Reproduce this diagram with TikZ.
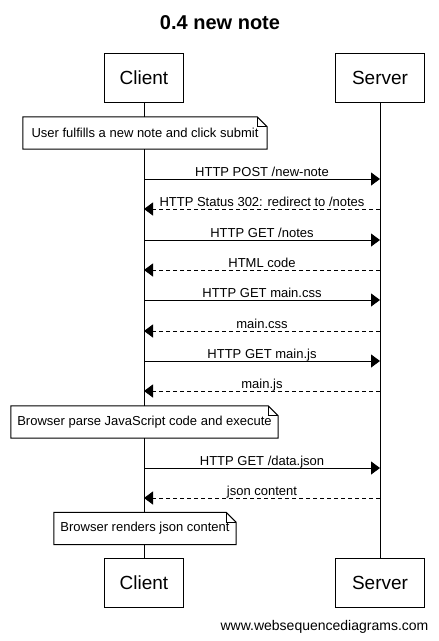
\documentclass[tikz,border=0pt]{standalone}
\usepackage{fontspec}
\setmainfont{Liberation Sans}
\usetikzlibrary{arrows.meta}
\newcommand\foldnote[1]{%
  \draw[line width=1pt] (#1.south west) -- (#1.north west) -- ([xshift=-10pt]#1.north east)
    -- ([yshift=-10pt]#1.north east) -- (#1.south east) -- cycle;
  \draw[line width=1pt] ([xshift=-10pt]#1.north east) |- ([yshift=-10pt]#1.north east);}
\begin{document}
\begin{tikzpicture}[x=1pt, y=-1pt,
    actor/.style={draw, line width=1pt, fill=white, minimum height=49pt, inner xsep=15pt, font=\fontsize{19}{22}\selectfont},
    note/.style={fill=white, minimum height=32pt, inner xsep=6pt, font=\fontsize{13}{15}\selectfont},
    msg/.style={line width=1pt, -{Triangle[length=9pt, width=13pt]}},
    reply/.style={msg, dash pattern=on 4pt off 3pt},
    lbl/.style={midway, anchor=base, yshift=2.5pt, inner sep=0pt, font=\fontsize{13}{15}\selectfont}]
  \useasboundingbox (0,0) rectangle (439,641);
  \node[anchor=base, font=\bfseries\fontsize{20}{24}\selectfont] (title) at (220,29) {0.4 new note};
  \node[actor, minimum width=79pt] (ctop) at (144,77.5) {Client};
  \node[actor, minimum width=89pt] (stop) at (380,77.5) {Server};
  \node[actor, minimum width=79pt] (cbot) at (144,582.5) {Client};
  \node[actor, minimum width=89pt] (sbot) at (380,582.5) {Server};
  % lifelines
  \draw[line width=1pt] (ctop) -- (cbot);
  \draw[line width=1pt] (stop) -- (sbot);
  \foreach \i/\y in {1/179,2/209,3/240,4/270,5/300,6/331,7/361,8/391,9/468,10/498}{
    \coordinate (c\i) at (144,\y);
    \coordinate (s\i) at (380,\y);
  }
  % notes
  \node[note, minimum width=244pt] (n1) at (145,133) {User fulfills a new note and click submit};
  \foldnote{n1}
  \node[note, minimum width=267pt] (n2) at (144.5,422) {Browser parse JavaScript code and execute};
  \foldnote{n2}
  \node[note, minimum width=182pt] (n3) at (145,528.5) {Browser renders json content};
  \foldnote{n3}
  % messages
  \draw[msg] (c1) -- (s1) node[lbl] {HTTP POST /new-note};
  \draw[reply] (s2) -- (c2) node[lbl] {HTTP Status 302: redirect to /notes};
  \draw[msg] (c3) -- (s3) node[lbl] {HTTP GET /notes};
  \draw[reply] (s4) -- (c4) node[lbl] {HTML code};
  \draw[msg] (c5) -- (s5) node[lbl] {HTTP GET main.css};
  \draw[reply] (s6) -- (c6) node[lbl] {main.css};
  \draw[msg] (c7) -- (s7) node[lbl] {HTTP GET main.js};
  \draw[reply] (s8) -- (c8) node[lbl] {main.js};
  \draw[msg] (c9) -- (s9) node[lbl] {HTTP GET /data.json};
  \draw[reply] (s10) -- (c10) node[lbl] {json content};
  \node[anchor=base, font=\fontsize{14}{16}\selectfont] (footer) at (324.5,630) {www.websequencediagrams.com};
\end{tikzpicture}
\end{document}
